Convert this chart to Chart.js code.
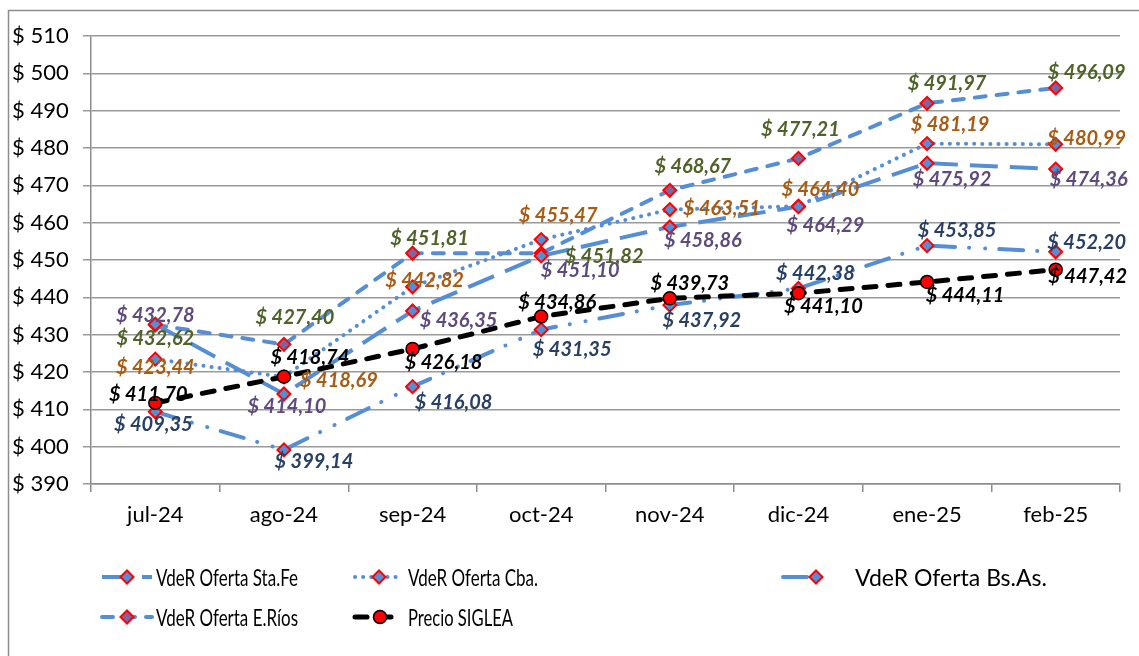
<html lang="es">
<head>
    <meta charset="UTF-8">
    <script src="https://cdn.jsdelivr.net/npm/chart.js"></script>
    <style>
        body { margin: 0; background: #fff; }
        #wrap { width: 1139px; height: 656px; position: relative; }
    </style>
</head>
<body>
<div id="wrap"><canvas id="precios" width="1139" height="656"></canvas></div>
<script>
    // datos
    const meses = ["jul-24", "ago-24", "sep-24", "oct-24", "nov-24", "dic-24", "ene-25", "feb-25"];
    const staFe = [432.78, 414.10, 436.35, 451.10, 458.86, 464.29, 475.92, 474.36];
    const cba = [423.44, 418.69, 442.82, 455.47, 463.51, 464.40, 481.19, 480.99];
    const bsAs = [409.35, 399.14, 416.08, 431.35, 437.92, 442.38, 453.85, 452.20];
    const eRios = [432.62, 427.40, 451.81, 451.82, 468.67, 477.21, 491.97, 496.09];
    const siglea = [411.70, 418.74, 426.18, 434.86, 439.73, 441.10, 444.11, 447.42];
    const yTicks = [390, 400, 410, 420, 430, 440, 450, 460, 470, 480, 490, 500, 510];

    const azul = "#558ED5";

    // desplazamiento de cada etiqueta respecto de su punto (dx, dy)
    const nudges = [
        [[0, -9], [3, 13], [46, 10], [39, 15], [33, 14], [27, 19], [25, 16], [33, 10]],
        [[0, 8], [55, 4], [12, -6], [17, -24], [52, -1], [22, -17], [23, -19], [31, -6]],
        [[-2, 13], [30, 12], [41, 16], [31, 20], [32, 15], [17, -15], [30, -15], [31, -9]],
        [[0, 14], [11, -27], [17, -15], [63, 3], [23, -24], [2, -29], [20, -20], [31, -15]],
        [[-7, -8], [26, -19], [31, 14], [16, -14], [20, -15], [25, 13], [38, 14], [32, 7]]
    ];
    const labelColors = ["#5F4A7E", "#A85B12", "#283F66", "#4F6228", "#000000"];

    // posición de la leyenda: x de la muestra, ancho, x del marcador, x del texto, y, ancho máx del texto
    const legendSlots = [
        [102, 50, 127, 156, 577, 142],
        [355, 48, 379, 408, 577, 130],
        [783, 52, 816, 855, 577, 192],
        [102, 50, 127, 156, 617, 142],
        [355, 48, 380, 408, 617, 105]
    ];

    function fmt(v) {
        return "$ " + v.toFixed(2).replace(".", ",");
    }

    const etiquetas = {
        id: "etiquetas",
        afterDatasetsDraw(chart) {
            const ctx = chart.ctx;
            ctx.save();
            ctx.font = "italic bold 20px Lato";
            ctx.textAlign = "center";
            ctx.textBaseline = "middle";
            chart.data.datasets.forEach((ds, i) => {
                const meta = chart.getDatasetMeta(i);
                meta.data.forEach((pt, j) => {
                    const n = nudges[i][j];
                    ctx.fillStyle = labelColors[i];
                    ctx.fillText(fmt(ds.data[j]), pt.x + n[0], pt.y + n[1]);
                });
            });
            ctx.restore();
        }
    };

    const leyenda = {
        id: "leyenda",
        afterDraw(chart) {
            const ctx = chart.ctx;
            ctx.save();
            // marco del gráfico
            ctx.strokeStyle = "#8c8c8c";
            ctx.lineWidth = 1.5;
            ctx.strokeRect(8.5, 10.5, 1200, 700);

            chart.data.datasets.forEach((ds, i) => {
                const s = legendSlots[i];
                ctx.setLineDash(ds.borderDash);
                ctx.lineCap = ds.borderCapStyle;
                ctx.lineWidth = ds.borderWidth;
                ctx.strokeStyle = ds.borderColor;
                ctx.beginPath();
                ctx.moveTo(s[0], s[4]);
                ctx.lineTo(s[0] + s[1], s[4]);
                ctx.stroke();

                ctx.setLineDash([]);
                ctx.fillStyle = ds.pointBackgroundColor;
                ctx.strokeStyle = ds.pointBorderColor;
                ctx.lineWidth = ds.pointBorderWidth;
                Chart.helpers.drawPoint(ctx, {
                    pointStyle: ds.pointStyle,
                    radius: ds.pointRadius,
                    borderWidth: ds.pointBorderWidth,
                    rotation: 0
                }, s[2], s[4]);

                ctx.fillStyle = "#000";
                ctx.font = "24px Lato";
                ctx.textAlign = "left";
                ctx.textBaseline = "middle";
                ctx.fillText(ds.label, s[3], s[4] + 1, s[5]);
            });
            ctx.restore();
        }
    };

    function serie(label, data, dash, cap, fill) {
        return {
            label: label,
            data: data,
            borderColor: azul,
            borderWidth: 4,
            borderDash: dash,
            borderCapStyle: cap,
            tension: 0,
            fill: false,
            pointStyle: "rectRot",
            pointRadius: 6.5,
            pointHoverRadius: 6.5,
            pointBackgroundColor: fill,
            pointBorderColor: "#FF0000",
            pointBorderWidth: 2
        };
    }

    const datasets = [
        serie("VdeR Oferta Sta.Fe", staFe, [28, 12], "butt", azul),
        serie("VdeR Oferta Cba.", cba, [0.1, 8], "round", azul),
        serie("VdeR Oferta Bs.As.", bsAs, [24, 14, 0.1, 16, 0.1, 14], "round", azul),
        serie("VdeR Oferta E.Ríos", eRios, [11, 11], "round", "#8064A2"),
        {
            label: "Precio SIGLEA",
            data: siglea,
            borderColor: "#000000",
            borderWidth: 5,
            borderDash: [12, 12],
            borderCapStyle: "round",
            tension: 0,
            fill: false,
            pointStyle: "circle",
            pointRadius: 6.5,
            pointHoverRadius: 6.5,
            pointBackgroundColor: "#FF0000",
            pointBorderColor: "#000000",
            pointBorderWidth: 1.5,
            order: -1
        }
    ];

    new Chart(document.getElementById("precios"), {
        type: "line",
        data: { labels: meses, datasets: datasets },
        options: {
            responsive: false,
            animation: false,
            events: [],
            layout: { padding: { left: 12, top: 36, right: 19, bottom: 122 } },
            plugins: {
                legend: { display: false },
                tooltip: { enabled: false },
                title: { display: false }
            },
            scales: {
                x: {
                    offset: true,
                    afterFit: (s) => { s.height = 50; },
                    grid: {
                        offset: true,
                        drawOnChartArea: false,
                        drawTicks: true,
                        tickLength: 8,
                        color: "#8c8c8c",
                        lineWidth: 1.5
                    },
                    border: { color: "#8c8c8c", width: 1.5 },
                    ticks: {
                        color: "#000",
                        font: { family: "Lato", size: 22 },
                        padding: 10,
                        maxRotation: 0
                    }
                },
                y: {
                    min: 390,
                    max: 510,
                    afterFit: (s) => { s.width = 79; },
                    afterBuildTicks: (s) => { s.ticks = yTicks.map(v => ({ value: v })); },
                    grid: {
                        color: "#9a9a9a",
                        lineWidth: 1.5,
                        drawTicks: true,
                        tickLength: 8
                    },
                    border: { color: "#8c8c8c", width: 1.5 },
                    ticks: {
                        color: "#000",
                        crossAlign: "far",
                        font: { family: "Lato", size: 22 },
                        callback: (v) => "$ " + v
                    }
                }
            }
        },
        plugins: [etiquetas, leyenda]
    });
</script>
</body>
</html>
